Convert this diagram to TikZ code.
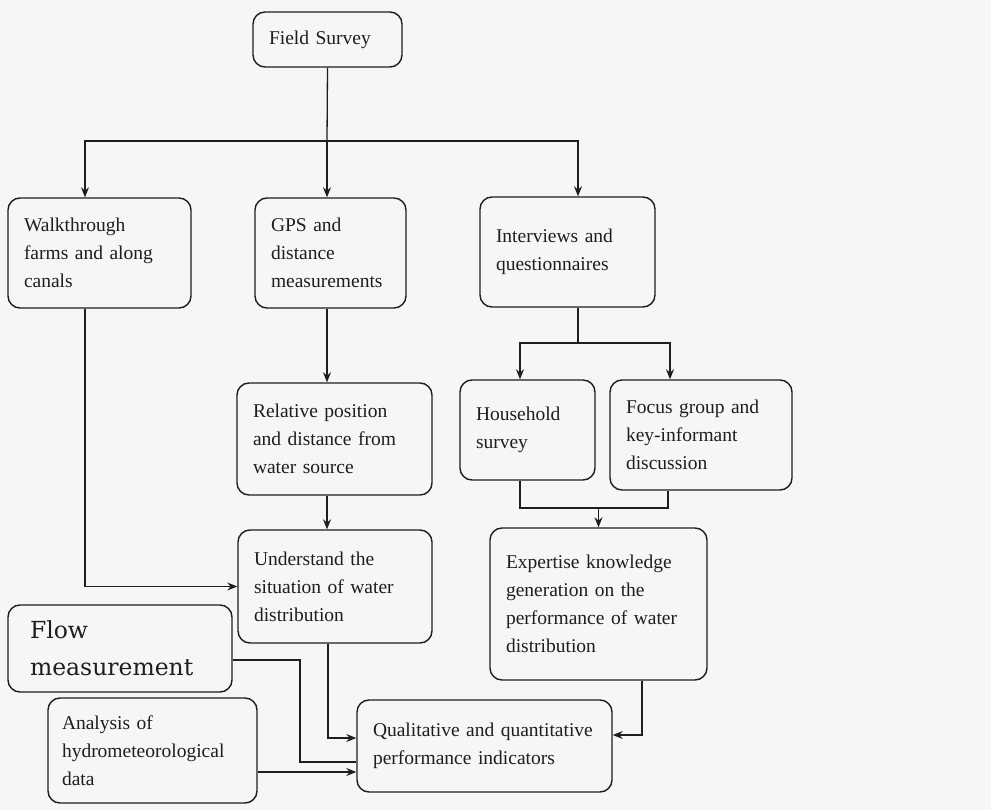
\documentclass[tikz,border=0pt]{standalone}
\usepackage{fontspec}
\setmainfont{Liberation Serif}
\newfontfamily\flowfont{DejaVu Serif}
\usepackage{tikz}
\usetikzlibrary{positioning}
\usetikzlibrary{arrows.meta}
\definecolor{ink}{RGB}{30,30,30}
\definecolor{paper}{RGB}{246,246,244}
\tikzset {
  % rounded step boxes
  stage/.style={draw=ink, rounded corners=12pt, align=left, inner xsep=16pt,
    inner ysep=0pt, line width=1.4pt, text=ink,
    font=\fontsize{19.5}{28}\selectfont},
  % the big one on the left
  bigstage/.style={stage, inner xsep=22pt, font=\flowfont\fontsize{23.5}{37}\selectfont},
  % connectors
  link/.style={draw=ink, line width=1.3pt},
  >={Stealth[length=10pt,width=8pt]},
}

\begin{document}
\begin{tikzpicture}[x=1pt, y=-1pt]
      \fill[paper] (0,0) rectangle (991,810);
      \useasboundingbox (0,0) rectangle (991,810);

      \node[stage, text width=117, minimum height=55] (field) at (327.5, 39.5) {Field Survey};

      \node[stage, text width=151, minimum height=110] (walk) at (99.5, 253) {Walkthrough\\farms and along\\canals};
      \node[stage, text width=119, minimum height=110] (gps) at (330.5, 253) {GPS and\\distance\\measurements};
      \node[stage, text width=143, minimum height=110] (inter) at (567.5, 252) {Interviews and\\questionnaires};

      \node[stage, text width=163, minimum height=112] (rel) at (334.5, 439) {Relative position\\and distance from\\water source};
      \node[stage, text width=103, minimum height=100] (house) at (527.5, 430) {Household\\survey};
      \node[stage, text width=150, minimum height=110] (focus) at (701, 435) {Focus group and\\key-informant\\discussion};

      \node[stage, text width=162, minimum height=113] (under) at (335, 586.5) {Understand the\\situation of water\\distribution};
      \node[stage, text width=185, minimum height=152] (expert) at (598.5, 604) {Expertise knowledge\\generation on the\\performance of water\\distribution};

      \node[bigstage, text width=180, minimum height=87] (flow) at (120, 648.5) {Flow\\measurement};
      \node[stage, text width=181, minimum height=105, inner xsep=14pt] (anal) at (152.5, 750.5) {Analysis of\\hydrometeorological\\data};
      \node[stage, text width=223, minimum height=92] (qual) at (484.5, 746) {Qualitative and quantitative\\performance indicators};

      % field survey fans out
      \coordinate (fsplit) at (327, 141);
      \draw[link] (field.south) -- (fsplit);
      \draw[link, ->] (fsplit) -| ([xshift=-14.5]walk.north);
      \draw[link, ->] (fsplit) -- ([xshift=-3.5]gps.north);
      \draw[link, ->] (fsplit) -| ([xshift=10.5]inter.north);

      % middle column
      \draw[link, ->] ([xshift=-3.5]gps.south) -- ([xshift=-7.5]rel.north);
      \draw[link, ->] ([xshift=-7.5]rel.south) -- ([xshift=-8]under.north);
      \draw[link, ->] ([xshift=-14.5]walk.south) |- (under.west);

      % interviews branch
      \coordinate (isplit) at (578, 343);
      \draw[link] ([xshift=10.5]inter.south) -- (isplit);
      \draw[link, ->] (isplit) -| ([xshift=-7.5]house.north);
      \draw[link, ->] (isplit) -| ([xshift=-31]focus.north);
      \coordinate (msplit) at (598.5, 508);
      \draw[link] ([xshift=-7.5]house.south) |- (msplit) -| ([xshift=-33]focus.south);
      \draw[link, ->] (msplit) -- (expert.north);

      % into the indicators
      \draw[link, ->] ([xshift=-7]under.south) |- ([yshift=8]qual.west);
      \coordinate (fbend) at (300, 762);
      \draw[link] ([yshift=-11.5]flow.east) -| (fbend) -- (fbend -| qual.west);
      \coordinate (aout) at ([yshift=-21.5]anal.east);
      \draw[link, ->] (aout) -- (aout -| qual.west);
      \draw[link, ->] ([xshift=43.5]expert.south) |- ([yshift=11]qual.east);
\end{tikzpicture}
\end{document}
